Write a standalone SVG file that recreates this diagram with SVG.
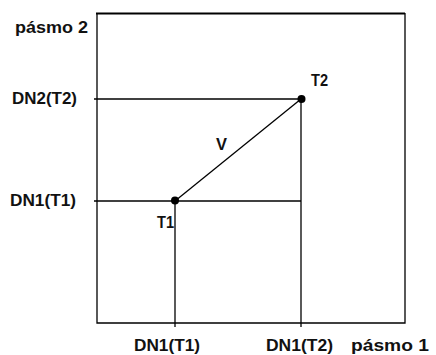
<svg xmlns="http://www.w3.org/2000/svg" width="436" height="355" viewBox="0 0 436 355">
<style>
.l{stroke:#000;stroke-width:1.3;fill:none}
.t{font-family:"Liberation Sans",Arial,sans-serif;font-weight:bold;font-size:17px;fill:#111}
</style>
<rect width="436" height="355" fill="#fff"/>
<g id="frame">
<path class="l" d="M97,13 V323 H405 V13" stroke-width="1.5"/>
<line x1="96" y1="13.5" x2="405" y2="13.5" stroke="#000" stroke-width="2.2"/>
</g>
<g id="connectors">
<line class="l" x1="94" y1="99" x2="301" y2="99"/>
<line class="l" x1="94" y1="201" x2="301" y2="201"/>
<line class="l" x1="175" y1="201" x2="175" y2="327"/>
<line class="l" x1="301" y1="99" x2="301" y2="327"/>
<line class="l" x1="175" y1="201" x2="301" y2="99" stroke-width="1.7"/>
</g>
<g id="T1"><circle cx="175" cy="200.5" r="4" fill="#000"/><text class="t" x="157" y="228" textLength="17" lengthAdjust="spacingAndGlyphs">T1</text></g>
<g id="T2"><circle cx="301.5" cy="99" r="4" fill="#000"/><text class="t" x="311" y="86" textLength="17" lengthAdjust="spacingAndGlyphs">T2</text></g>
<g id="V"><text class="t" x="216" y="150" textLength="11" lengthAdjust="spacingAndGlyphs">V</text></g>
<g id="labels">
<text class="t" x="15" y="33" textLength="73" lengthAdjust="spacingAndGlyphs">pásmo 2</text>
<text class="t" x="12" y="104" textLength="65" lengthAdjust="spacingAndGlyphs">DN2(T2)</text>
<text class="t" x="10" y="206" textLength="66" lengthAdjust="spacingAndGlyphs">DN1(T1)</text>
<text class="t" x="134" y="351" textLength="66" lengthAdjust="spacingAndGlyphs">DN1(T1)</text>
<text class="t" x="266" y="351" textLength="67" lengthAdjust="spacingAndGlyphs">DN1(T2)</text>
<text class="t" x="351" y="351" textLength="78" lengthAdjust="spacingAndGlyphs">pásmo 1</text>
</g>
</svg>
